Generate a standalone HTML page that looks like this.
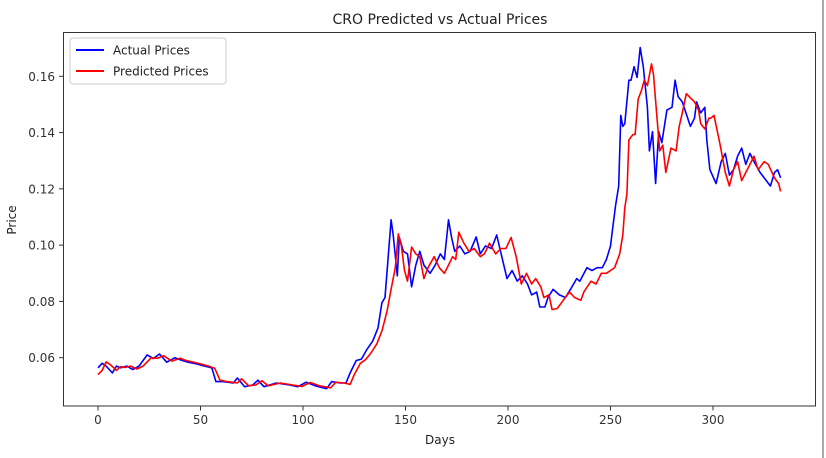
<!DOCTYPE html>
<html><head><meta charset="utf-8"><style>
html,body{margin:0;padding:0;background:#fff;width:826px;height:458px;overflow:hidden}
svg{display:block;font-family:"DejaVu Sans","Liberation Sans",sans-serif}
</style></head><body>
<svg id="chart" width="826" height="458">
<line x1="823" y1="0" x2="823" y2="458" stroke="#aaa" stroke-width="2"/>
<text x="440" y="24" text-anchor="middle" font-size="14" fill="#222">CRO Predicted vs Actual Prices</text>
<text x="440" y="444" text-anchor="middle" font-size="12" fill="#222">Days</text>
<text transform="translate(16,220) rotate(-90)" text-anchor="middle" font-size="12" fill="#222">Price</text>
<g id="ticks"></g>
<g id="series"></g>
<rect x="63.5" y="32.5" width="752" height="373.5" fill="none" stroke="#333" stroke-width="1"/>
<g>
<rect x="70" y="38" width="156" height="46" rx="3" fill="#fff" fill-opacity="0.85" stroke="#ccc"/>
<line x1="76" y1="50" x2="104" y2="50" stroke="#0000ff" stroke-width="2"/>
<text x="113" y="54.5" font-size="12" fill="#222">Actual Prices</text>
<line x1="76" y1="71" x2="104" y2="71" stroke="#ff0000" stroke-width="2"/>
<text x="113" y="75.5" font-size="12" fill="#222">Predicted Prices</text>
</g>
</svg>
<script>
const xTicks=[0,50,100,150,200,250,300];
const yTicks=[0.06,0.08,0.10,0.12,0.14,0.16];
const yTickLabels=["0.06","0.08","0.10","0.12","0.14","0.16"];
const actualDays=[0,2,4,7,9,11,14,17,20,24,27,30,33.5,37.5,41,44,48,52,55.5,57.5,61,66,68,71.5,75.5,78,81,87,93.5,97.5,101.5,106,111.5,114,118,121,123,126,128.5,131,134,136.6,138.5,140,143,144,146,147,149,151,153,155,157,159,162,164.5,167,169,171,172.5,174,176.5,179,181.5,184.5,186.5,189,192,194.5,197,199.5,202,204.5,207,209.5,211.5,214,215.5,218,219.5,222,225,228,230.5,233.5,235,238.5,241,243.5,246,248,250,251,252.5,254,255,256,257,259,260,261.5,263,264.5,266,268,269,270.5,272,273.5,275,277.5,280,281.5,283,285,289,291,292,294,296,297,298.5,301.5,304,306,308,310,312,314,316,318,320,323,325,328,330,331.5,333];
const actualValues=[0.0564,0.058,0.057,0.0546,0.057,0.0564,0.057,0.0558,0.057,0.061,0.0597,0.0613,0.0584,0.060,0.059,0.0584,0.0578,0.057,0.0564,0.0515,0.0515,0.051,0.0528,0.0497,0.0503,0.052,0.0497,0.051,0.0503,0.0497,0.0513,0.050,0.049,0.0515,0.051,0.051,0.0546,0.059,0.0595,0.0627,0.0659,0.0706,0.0795,0.0814,0.1090,0.1036,0.0891,0.1027,0.0978,0.0969,0.0852,0.0929,0.0978,0.0929,0.0900,0.0929,0.0969,0.0949,0.1090,0.1027,0.0978,0.0997,0.0969,0.0978,0.1029,0.0969,0.0997,0.0988,0.1036,0.0959,0.0881,0.0910,0.0872,0.0891,0.0862,0.0823,0.0833,0.0780,0.0780,0.0814,0.0843,0.0823,0.0814,0.0843,0.0881,0.0872,0.0920,0.0910,0.0920,0.0920,0.0949,0.0997,0.1055,0.1142,0.1210,0.1461,0.1422,0.1432,0.1586,0.1586,0.1634,0.1596,0.1702,0.1634,0.1490,0.1335,0.1403,0.1219,0.1403,0.1364,0.1480,0.1490,0.1586,0.1528,0.1509,0.1422,0.1451,0.1509,0.1470,0.1490,0.1374,0.1268,0.1219,0.1297,0.1326,0.1249,0.1268,0.1316,0.1345,0.1287,0.1326,0.1297,0.1258,0.1239,0.1210,0.1258,0.1268,0.1239];
const predictedDays=[0,2,4,6,9,11,13,16,19,22,26,29,32,36,40,43,46,50,54,57,59.5,63,68,70,73.5,77,80,83,89,95,99.5,103.5,108,113.5,116,120,123,125,128,130.5,133,136,138.6,141,143,145,146.5,148,149.5,151,153,155,157,159,161,164,166.5,169,171,173,174.5,176,178.5,181,183.5,186.5,188.5,191,194,196.5,199,201.5,204,206.5,209,211.5,213.5,216,217.5,220,221.5,224,227,230,232.5,235.5,237,240.5,243,245.5,248,250,252,253,254.5,256,257,258,259,261,262,263.5,265,266.5,268,270,271,272.5,274,275.5,277,279.5,282,283.5,285,287,291,293,294,296,298,299,300.5,303.5,306,308,310,312,314,316,318,320,322,325,327,330,332,333];
const predictedValues=[0.054,0.0555,0.0585,0.0575,0.0555,0.0568,0.0565,0.057,0.056,0.057,0.060,0.0598,0.0607,0.0588,0.0598,0.059,0.0585,0.0578,0.057,0.0562,0.052,0.0515,0.051,0.0525,0.050,0.0503,0.0518,0.050,0.051,0.0503,0.0498,0.0512,0.050,0.0493,0.0513,0.051,0.0505,0.054,0.058,0.0593,0.0615,0.0649,0.0697,0.0765,0.0843,0.0920,0.1040,0.0997,0.0910,0.0872,0.0993,0.0969,0.0959,0.0881,0.0920,0.0959,0.0920,0.0900,0.0929,0.0959,0.0949,0.1046,0.1007,0.0978,0.0988,0.0959,0.0969,0.1007,0.0969,0.0988,0.0988,0.1027,0.0959,0.0862,0.0900,0.0862,0.0881,0.0852,0.0814,0.0823,0.0771,0.0775,0.0804,0.0833,0.0814,0.0804,0.0833,0.0872,0.0862,0.0900,0.0900,0.0910,0.0920,0.0939,0.0969,0.1036,0.1133,0.1181,0.1374,0.1393,0.1393,0.1519,0.1548,0.1586,0.1567,0.1644,0.1606,0.1470,0.1335,0.1355,0.1258,0.1345,0.1335,0.1422,0.1470,0.1538,0.1509,0.1480,0.1432,0.1413,0.1451,0.1451,0.1461,0.1355,0.1258,0.1210,0.1268,0.1297,0.1229,0.1258,0.1287,0.1316,0.1268,0.1297,0.1287,0.1239,0.1219,0.1191,0.1210,0.1200,0.1210];

const X=d=>98+d*2.05;
const Y=v=>357.7-(v-0.06)*2814;
const NS="http://www.w3.org/2000/svg";
const tg=document.getElementById('ticks');
xTicks.forEach(t=>{
  const l=document.createElementNS(NS,'line');
  l.setAttribute('x1',X(t));l.setAttribute('x2',X(t));l.setAttribute('y1',406);l.setAttribute('y2',410.5);
  l.setAttribute('stroke','#333');
  
  
  tg.appendChild(l);
  const s=document.createElementNS(NS,'text');
  s.setAttribute('x',X(t));s.setAttribute('y',424);s.setAttribute('text-anchor','middle');
  s.setAttribute('font-size','12');s.setAttribute('fill','#333');
  s.textContent=t;
  
  
  tg.appendChild(s);
});
yTicks.forEach((t,i)=>{
  const l=document.createElementNS(NS,'line');
  l.setAttribute('x1',59);l.setAttribute('x2',63.5);l.setAttribute('y1',Y(t));l.setAttribute('y2',Y(t));
  l.setAttribute('stroke','#333');
  
  
  tg.appendChild(l);
  const s=document.createElementNS(NS,'text');
  s.setAttribute('x',55);s.setAttribute('y',Y(t)+4.5);s.setAttribute('text-anchor','end');
  s.setAttribute('font-size','12');s.setAttribute('fill','#333');
  s.textContent=yTickLabels[i];
  
  
  tg.appendChild(s);
});
const sg=document.getElementById('series');
function draw(days,vals,color,name){
  const p=document.createElementNS(NS,'polyline');
  p.setAttribute('points',days.map((d,i)=>X(d).toFixed(1)+','+Y(vals[i]).toFixed(1)).join(' '));
  p.setAttribute('fill','none');p.setAttribute('stroke',color);p.setAttribute('stroke-width','1.6');
  p.setAttribute('stroke-linejoin','round');
  
  
  sg.appendChild(p);
}
draw(actualDays,actualValues,'#0000ff','actual-prices-line');
draw(predictedDays,predictedValues,'#ff0000','predicted-prices-line');
</script>
</body></html>
